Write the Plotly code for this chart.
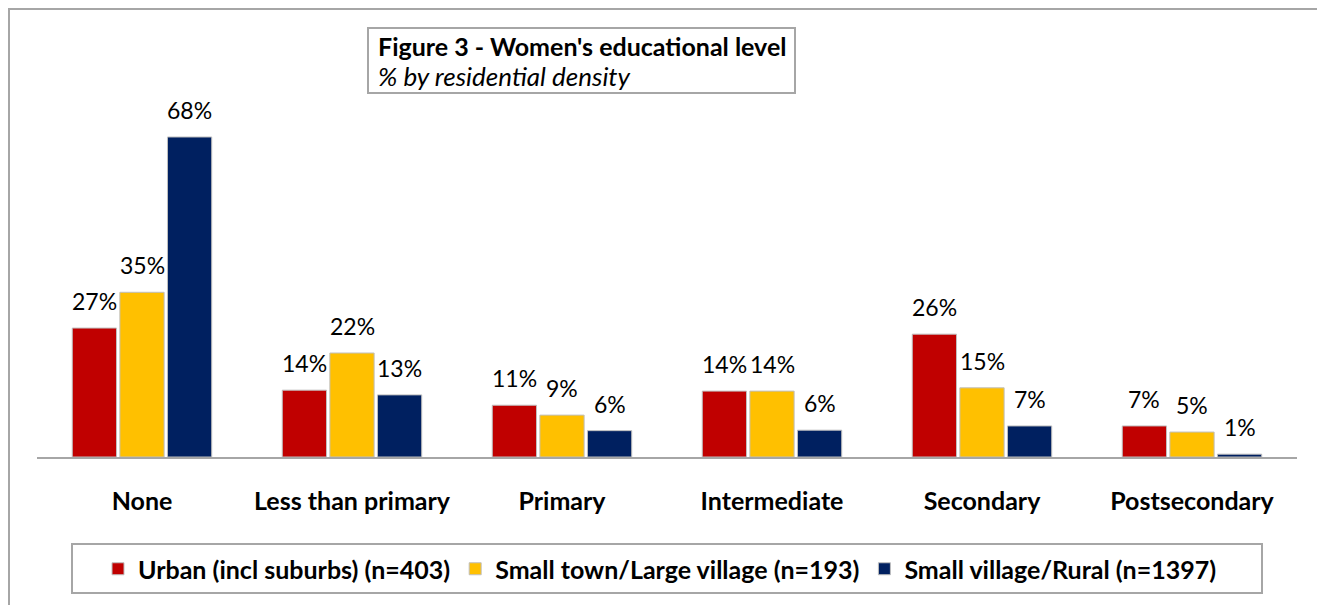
import plotly.graph_objects as go

categories = ["None", "Less than primary", "Primary", "Intermediate", "Secondary", "Postsecondary"]
series_names = ["Urban (incl suburbs) (n=403)", "Small town/Large village (n=193)", "Small village/Rural (n=1397)"]
urban = [27.4, 14.2, 11.0, 14.0, 26.1, 6.6]
town = [35.0, 22.1, 8.9, 14.0, 14.7, 5.3]
rural = [68.0, 13.2, 5.6, 5.7, 6.6, 0.6]
series_values = [urban, town, rural]
colors = ["#C00000", "#FFC000", "#002060"]

FONT = "Lato"
OFF = 8  # page body margin
W, H = 1325 - OFF, 605 - OFF
PLOT_L, PLOT_R, PLOT_B = 37 - OFF, 1297 - OFF, 457 - OFF
ML, MR, MT, MB = PLOT_L, W - PLOT_R, 22, H - PLOT_B
PW, PH = W - ML - MR, H - MT - MB
PX_PER_UNIT = 4.706
YMAX = PH / PX_PER_UNIT
BARGAP, BARGROUPGAP = 0.32, 0.07


def px_x(px):
    return (px - OFF - ML) / PW


def px_y(py):
    return (PLOT_B - (py - OFF)) / PH


fig = go.Figure()
for name, vals, col in zip(series_names, series_values, colors):
    fig.add_trace(go.Bar(
        x=categories, y=vals, name=name,
        marker=dict(color=col, line=dict(color="#bfbfbf", width=1)),
        hoverinfo="skip",
    ))

# data labels
slot = PW / len(categories)
trace_slot = slot * (1 - BARGAP) / len(series_values)
annotations = []
for i, vals in enumerate(series_values):
    shift = (i - (len(series_values) - 1) / 2) * trace_slot
    for c, v in zip(categories, vals):
        annotations.append(dict(
            x=c, y=v, xref="x", yref="y", text=f"{round(v)}%",
            showarrow=False, xshift=shift, yshift=11, yanchor="bottom",
            font=dict(family=FONT, size=23, color="#000000"),
        ))

# title box text
annotations.append(dict(
    x=px_x(376), y=px_y(46), xref="paper", yref="paper", xanchor="left", yanchor="middle",
    text="<b>Figure 3 - Women's educational level</b>", showarrow=False,
    font=dict(family=FONT, size=25, color="#000000"),
))
annotations.append(dict(
    x=px_x(376), y=px_y(76), xref="paper", yref="paper", xanchor="left", yanchor="middle",
    text="<i>% by residential density</i>", showarrow=False,
    font=dict(family=FONT, size=26, color="#000000"),
))

shapes = [
    dict(type="rect", xref="paper", yref="paper",
         x0=px_x(9), x1=px_x(1345), y0=px_y(640), y1=px_y(9),
         line=dict(color="#a6a6a6", width=2), fillcolor="rgba(0,0,0,0)", layer="below"),
    dict(type="rect", xref="paper", yref="paper",
         x0=px_x(368), x1=px_x(795), y0=px_y(93), y1=px_y(28),
         line=dict(color="#a6a6a6", width=2), fillcolor="white"),
    dict(type="rect", xref="paper", yref="paper",
         x0=px_x(72), x1=px_x(1262), y0=px_y(593), y1=px_y(544),
         line=dict(color="#a6a6a6", width=2), fillcolor="rgba(0,0,0,0)"),
]

fig.update_layout(
    width=W, height=H,
    margin=dict(l=ML, r=MR, t=MT, b=MB, autoexpand=False),
    paper_bgcolor="white", plot_bgcolor="white",
    barmode="group", bargap=BARGAP, bargroupgap=BARGROUPGAP,
    font=dict(family=FONT, size=22, color="#000000"),
    showlegend=True,
    legend=dict(
        orientation="h", x=px_x(660), xanchor="center", y=px_y(569), yanchor="middle",
        borderwidth=0, bgcolor="rgba(0,0,0,0)",
        font=dict(family=FONT, size=25, color="#000000", weight="bold"),
        traceorder="normal",
    ),
    xaxis=dict(
        showline=True, linecolor="#a6a6a6", linewidth=2,
        ticks="outside", ticklen=21, tickcolor="rgba(0,0,0,0)",
        tickfont=dict(family=FONT, size=25, color="#000000", weight="bold"),
        showgrid=False, fixedrange=True,
    ),
    yaxis=dict(range=[0, YMAX], visible=False, showgrid=False, fixedrange=True),
    annotations=annotations,
    shapes=shapes,
)

fig.write_html("out.html")
